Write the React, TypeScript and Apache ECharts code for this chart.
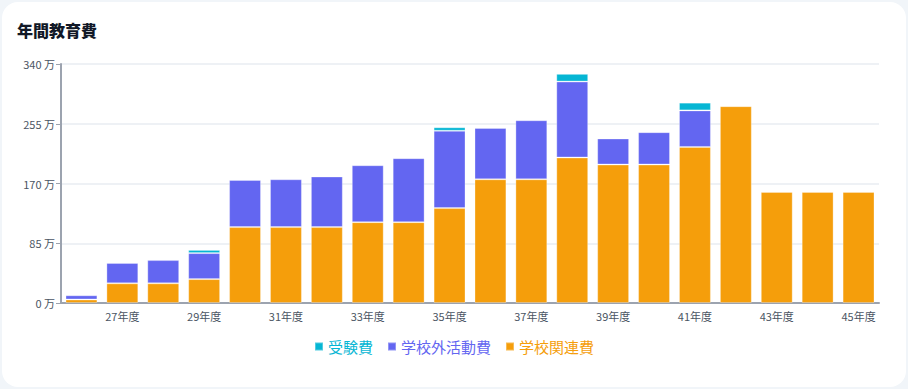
import React, { useEffect, useRef } from "react";
import * as echarts from "echarts";

const categories = [
  "26年度", "27年度", "28年度", "29年度", "30年度", "31年度", "32年度", "33年度", "34年度", "35年度",
  "36年度", "37年度", "38年度", "39年度", "40年度", "41年度", "42年度", "43年度", "44年度", "45年度",
];
// 単位: 万円
const schoolCosts = [5, 28, 28, 34, 108, 108, 108, 115, 115, 135, 176, 176, 207, 197, 197, 222, 280, 158, 158, 158];
const outsideCosts = [6, 29, 33, 37, 67, 68, 72, 81, 91, 110, 73, 84, 108, 37, 46, 52, 0, 0, 0, 0];
const examCosts = [0, 0, 0, 4.5, 0, 0, 0, 0, 0, 5, 0, 0, 11, 0, 0, 11, 0, 0, 0, 0];
const yTicks = [0, 85, 170, 255, 340];

const COLORS = { exam: "#06b6d4", outside: "#6366f1", school: "#f59e0b" };
const FONT = '"Noto Sans CJK JP", "Noto Sans", sans-serif';

export default function App() {
  const ref = useRef<HTMLDivElement>(null);
  useEffect(() => {
    if (!ref.current) return;
    const chart = echarts.init(ref.current, undefined, { renderer: "svg" });
    const toData = (arr: number[]) => arr.map((v) => (v === 0 ? null : v));
    const barStyle = (c: string) => ({ color: c, borderColor: "rgba(255,255,255,0.3)", borderWidth: 1 });
    chart.setOption({
      animation: false,
      textStyle: { fontFamily: FONT },
      title: {
        text: "年間教育費",
        left: 12,
        top: 17,
        textStyle: { fontSize: 16, fontWeight: 900, color: "#111827", fontFamily: FONT },
      },
      legend: {
        bottom: 30,
        left: "center",
        itemWidth: 8,
        itemHeight: 8,
        itemGap: 14,
        icon: "rect",
        data: [
          { name: "受験費", textStyle: { color: COLORS.exam } },
          { name: "学校外活動費", textStyle: { color: COLORS.outside } },
          { name: "学校関連費", textStyle: { color: COLORS.school } },
        ],
        textStyle: { fontSize: 15, fontFamily: FONT },
      },
      grid: { left: 61, right: 29, top: 64, bottom: 86, containLabel: false },
      xAxis: {
        type: "category",
        data: categories,
        axisLine: { lineStyle: { color: "#9ca3af", width: 2 } },
        axisTick: { alignWithLabel: true, interval: (i: number) => i % 2 === 1, lineStyle: { color: "#6b7280" }, length: 5 },
        axisLabel: { interval: (i: number) => i % 2 === 1, color: "#4b5563", fontSize: 11, margin: 7 },
      },
      yAxis: {
        type: "value",
        min: 0,
        max: yTicks[yTicks.length - 1],
        interval: yTicks[1] - yTicks[0],
        axisLine: { show: true, lineStyle: { color: "#9ca3af", width: 2 } },
        axisTick: { show: true, length: 5, lineStyle: { color: "#9ca3af" } },
        axisLabel: { formatter: "{value} 万", color: "#4b5563", fontSize: 11, margin: 6 },
        splitLine: { lineStyle: { color: "#eef1f5", width: 2 } },
      },
      series: [
        { name: "学校関連費", type: "bar", stack: "total", data: toData(schoolCosts), itemStyle: barStyle(COLORS.school), barCategoryGap: "22%" },
        { name: "学校外活動費", type: "bar", stack: "total", data: toData(outsideCosts), itemStyle: barStyle(COLORS.outside) },
        { name: "受験費", type: "bar", stack: "total", data: toData(examCosts), itemStyle: barStyle(COLORS.exam) },
      ],
    });
    return () => chart.dispose();
  }, []);
  return (
    <div style={{ position: "fixed", inset: 0, background: "#f1f5f9" }}>
      <div
        style={{
          position: "absolute",
          left: 2,
          top: 2,
          right: 2,
          bottom: 2,
          background: "#ffffff",
          borderRadius: 16,
          overflow: "hidden",
        }}
      />
      <div ref={ref} style={{ position: "absolute", left: 0, top: 0, width: 908, height: 389 }} />
    </div>
  );
}
